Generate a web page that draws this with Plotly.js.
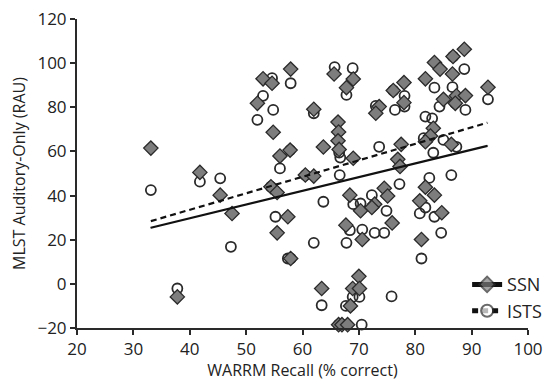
<!DOCTYPE html>
<html>
<head>
<meta charset="utf-8">
<script src="https://cdn.plot.ly/plotly-3.0.1.min.js"></script>
<style>html,body{margin:0;padding:0;background:#fff;}#chart{width:559px;height:381px;}</style>
</head>
<body>
<div id="chart"></div>
<script>
// SSN condition (grey diamonds)
const ssnX = [33.1, 41.8, 45.4, 47.5, 37.8, 53.0, 54.6, 52.0, 54.8, 57.9, 56.0, 57.8, 54.4, 55.5, 57.4, 55.5, 57.9, 60.5, 62.0, 62.0,
              65.6, 69.0, 67.8, 66.3, 66.4, 66.3, 66.5, 63.7, 69.0, 68.4, 70.3, 72.8, 72.3, 74.5, 75.1, 75.9, 67.7, 70.6, 73.6, 73.0,
              76.1, 78.0, 78.0, 77.5, 76.9, 77.3, 83.2, 82.7, 81.8, 86.4, 88.7, 86.7, 83.4, 84.4, 86.6, 81.8, 92.9, 85.0, 87.3, 88.9,
              87.1, 81.8, 83.4, 80.8, 84.7, 81.1, 70.0, 63.4, 68.9, 70.1, 68.5, 66.4, 67.0, 68.0];
const ssnY = [61.5, 50.5, 40.2, 31.9, -5.9, 92.9, 90.9, 81.8, 68.7, 97.3, 57.9, 60.6, 44.0, 41.4, 30.4, 23.1, 11.5, 49.3, 48.8, 79.1,
              95.1, 92.8, 88.9, 73.3, 68.8, 64.8, 60.9, 62.0, 56.9, 40.2, 33.1, 36.1, 34.6, 43.3, 39.8, 27.6, 26.6, 20.1, 80.3, 77.3,
              87.6, 91.2, 82.1, 63.2, 56.4, 53.2, 70.5, 67.0, 64.4, 63.2, 106.3, 103.0, 100.3, 97.3, 95.1, 92.9, 89.1, 83.6, 85.2, 85.3,
              81.8, 43.8, 40.2, 37.6, 32.2, 20.1, 3.4, -2.1, -2.1, -2.1, -10.0, -18.5, -18.5, -18.5];

// ISTS condition (open circles)
const istsX = [33.1, 37.8, 41.8, 45.4, 47.3, 54.6, 53.0, 54.8, 52.0, 57.9, 57.8, 56.0, 54.4, 55.2, 57.4, 57.9, 60.5, 62.0, 65.7, 68.9,
               67.8, 66.5, 66.7, 66.6, 62.0, 63.7, 69.0, 70.3, 72.3, 74.9, 68.4, 70.6, 72.8, 74.5, 67.8, 73.6, 73.0, 76.4, 76.1, 78.1,
               78.1, 81.8, 83.0, 81.5, 85.0, 87.3, 83.2, 77.2, 82.5, 86.4, 80.8, 81.8, 83.4, 84.6, 81.1, 86.7, 88.7, 83.4, 86.6, 92.9,
               84.3, 87.1, 88.9, 63.4, 68.9, 70.1, 75.8, 67.7, 68.5, 66.4, 67.0, 70.5];
const istsY = [42.5, -2.1, 46.3, 47.8, 16.8, 93.2, 85.2, 78.8, 74.3, 90.9, 60.6, 52.3, 44.0, 30.4, 11.5, 11.5, 49.3, 77.3, 98.2, 97.7,
               85.6, 59.5, 57.2, 49.3, 18.6, 37.2, 36.1, 36.4, 40.2, 33.1, 24.3, 24.6, 23.1, 23.1, 18.6, 62.1, 80.6, 78.8, 87.6, 85.2,
               80.3, 75.8, 75.0, 66.0, 65.2, 62.1, 59.4, 45.2, 48.0, 49.3, 31.9, 34.6, 30.4, 23.1, 11.5, 103.0, 97.3, 88.9, 89.1, 83.6,
               80.3, 81.8, 78.8, -9.7, -5.9, -5.9, -5.7, -10.0, -10.0, -18.5, -18.5, -18.5];

// Regression fit lines (end points)
const fitX = [33.1, 92.8];
const ssnFit = [25.4, 62.5];
const istsFit = [28.4, 73.0];

const xTicks = [20, 30, 40, 50, 60, 70, 80, 90, 100];
const yTicks = [-20, 0, 20, 40, 60, 80, 100, 120];

const FONT = 'Open Sans, Liberation Sans, sans-serif';
const DARK = '#2a2a2a';

const traces = [
  {x: istsX, y: istsY, type: 'scatter', mode: 'markers', showlegend: false, cliponaxis: false,
   marker: {symbol: 'circle-open', size: 10, color: DARK, line: {width: 1.8, color: DARK}}},
  {x: ssnX, y: ssnY, type: 'scatter', mode: 'markers', showlegend: false, cliponaxis: false,
   marker: {symbol: 'diamond', size: 11, color: '#7d7d7d', line: {width: 1.3, color: DARK}}},
  {x: fitX, y: ssnFit, type: 'scatter', mode: 'lines+markers', name: 'SSN',
   line: {color: '#111', width: 2.2},
   marker: {symbol: 'diamond', size: [0.01, 0.01], color: '#7d7d7d', line: {width: 1.3, color: DARK}}},
  {x: fitX, y: istsFit, type: 'scatter', mode: 'lines+markers', name: 'ISTS',
   line: {color: '#111', width: 2.2, dash: '6px,4px'},
   marker: {symbol: 'circle', size: [0.01, 0.01], color: '#fff', line: {width: 1.8, color: DARK}}}
];

const layout = {
  width: 559, height: 381,
  margin: {l: 77, r: 19, t: 19, b: 53},
  paper_bgcolor: '#fff', plot_bgcolor: '#fff',
  font: {family: FONT, color: '#222', size: 17},
  showlegend: true,
  legend: {x: 0.865, y: 0.2, xanchor: 'left', yanchor: 'top', bgcolor: 'rgba(0,0,0,0)',
           font: {family: FONT, size: 18, color: '#222'}, itemsizing: 'constant', tracegroupgap: 0},
  xaxis: {range: [20, 100], tickvals: xTicks, ticktext: xTicks.map(String), showgrid: false, zeroline: false,
          showline: true, linewidth: 2, linecolor: DARK, ticks: 'outside', ticklen: 5, tickwidth: 2, tickcolor: DARK,
          tickfont: {family: FONT, size: 17, color: '#222'},
          title: {text: 'WARRM Recall (% correct)', font: {family: FONT, size: 16, color: '#222'}, standoff: 7}},
  yaxis: {range: [-20, 120], tickvals: yTicks, ticktext: yTicks.map(v => v < 0 ? '\u2212' + Math.abs(v) : String(v)),
          showgrid: false, zeroline: false,
          showline: true, linewidth: 2, linecolor: DARK, ticks: 'outside', ticklen: 5, tickwidth: 2, tickcolor: DARK,
          tickfont: {family: FONT, size: 17, color: '#222'},
          title: {text: 'MLST Auditory-Only (RAU)', font: {family: FONT, size: 16, color: '#222'}, standoff: 8}}
};

Plotly.newPlot('chart', traces, layout, {displayModeBar: false, staticPlot: true});
</script>
</body>
</html>
